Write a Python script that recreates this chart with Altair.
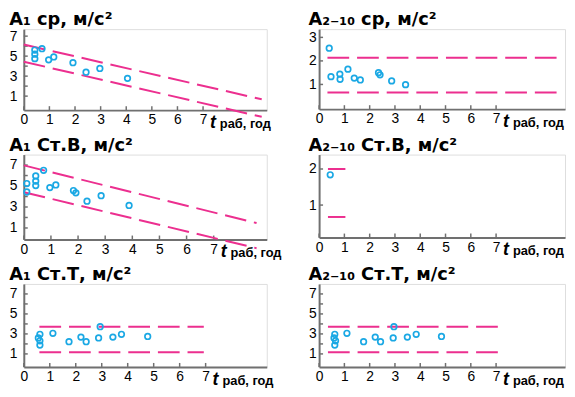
import altair as alt
import pandas as pd

FONT = "Liberation Sans"
TFONT = "DejaVu Sans"
CYAN = "#1aa8e4"
MAG = "#ec2f8f"
AXC = "#707070"

x_ticks = [0, 1, 2, 3, 4, 5, 6, 7]

# ---- A1 ср ----
p1_t = [0.43, 0.43, 0.43, 0.71, 0.97, 1.17, 1.92, 2.43, 2.97, 4.05]
p1_a = [5.61, 5.20, 4.75, 5.74, 4.63, 4.92, 4.34, 3.39, 3.77, 2.78]
p1_up_t = [0.0, 9.29]
p1_up_a = [6.16, 0.68]
p1_lo_t = [0.0, 9.29]
p1_lo_a = [4.44, -1.07]

# ---- A2-10 ср ----
p2_t = [0.40, 0.47, 0.82, 0.83, 1.14, 1.39, 1.63, 2.35, 2.41, 2.87, 3.42]
p2_a = [2.54, 1.33, 1.44, 1.22, 1.65, 1.27, 1.19, 1.50, 1.41, 1.15, 0.99]
p2_up_t = [0.33, 9.6]
p2_up_a = [2.13, 2.13]
p2_lo_t = [0.33, 9.6]
p2_lo_a = [0.66, 0.66]

# ---- A1 Ст.В ----
p3_t = [0.11, 0.11, 0.44, 0.44, 0.44, 0.73, 0.96, 1.18, 1.83, 1.92, 2.33, 2.85, 3.88]
p3_a = [5.24, 4.43, 5.96, 5.47, 5.04, 6.50, 4.85, 5.10, 4.57, 4.35, 3.55, 4.08, 3.15]
p3_up_t = [0.0, 8.58]
p3_up_a = [6.97, 1.47]
p3_lo_t = [0.0, 8.58]
p3_lo_a = [4.41, -0.93]

# ---- A2-10 Ст.В ----
p4_t = [0.44]
p4_a = [1.84]
p4_up_t = [0.35, 1.04]
p4_up_a = [2.0, 2.0]
p4_lo_t = [0.35, 1.04]
p4_lo_a = [0.67, 0.67]

# ---- A1 Ст.Т ----
p5_t = [0.56, 0.62, 0.62, 0.62, 1.12, 1.74, 2.20, 2.40, 2.88, 2.94, 3.43, 3.76, 4.77]
p5_a = [2.60, 2.96, 2.31, 1.89, 3.06, 2.22, 2.68, 2.22, 2.60, 3.72, 2.68, 2.96, 2.75]
p5_up_t = [0.60, 6.93]
p5_up_a = [3.72, 3.72]
p5_lo_t = [0.60, 6.93]
p5_lo_a = [1.16, 1.16]

# ---- A2-10 Ст.Т ----
p6_t = [0.59, 0.62, 0.65, 0.62, 1.10, 1.76, 2.22, 2.43, 2.93, 2.96, 3.49, 3.84, 4.84]
p6_a = [2.60, 2.96, 2.31, 1.89, 3.06, 2.22, 2.68, 2.22, 2.60, 3.72, 2.68, 2.96, 2.75]
p6_up_t = [0.35, 7.08]
p6_up_a = [3.72, 3.72]
p6_lo_t = [0.35, 7.08]
p6_lo_a = [1.16, 1.16]


def panel(title, pts_t, pts_a, bounds, xmax, ydom, yvals, odd_only, w, h, ypad):
    pts = pd.DataFrame({"t": pts_t, "a": pts_a})
    rows = []
    for name, bt, ba in bounds:
        for tt, aa in zip(bt, ba):
            rows.append({"t": tt, "a": aa, "b": name})
    ln = pd.DataFrame(rows)
    xs = alt.Scale(domain=[0, xmax], nice=False, zero=False)
    ys = alt.Scale(domain=ydom, nice=False, zero=False)
    xaxis = alt.Axis(values=x_ticks, title=None, grid=False, labelFont=FONT,
                     labelFontSize=14, labelColor="black", labelPadding=3,
                     labelFlush=False, labelOverlap=False, domainColor=AXC,
                     domainWidth=2, ticks=False)
    yaxis = alt.Axis(values=yvals, title=None, grid=False, labelFont=FONT,
                     labelFontSize=14, labelColor="black", labelPadding=ypad,
                     labelOverlap=False, domainColor=AXC, domainWidth=2, ticks=False,
                     labelExpr=("datum.value % 2 == 1 ? datum.label : ''" if odd_only else "datum.label"))
    xt = alt.Chart(pd.DataFrame({"v": x_ticks})).mark_rule(color=AXC, strokeWidth=1.5).encode(
        x=alt.X("v:Q", scale=xs, axis=xaxis), y=alt.value(h), y2=alt.value(h - 4))
    yt = alt.Chart(pd.DataFrame({"v": yvals})).mark_rule(color=AXC, strokeWidth=1.5).encode(
        y=alt.Y("v:Q", scale=ys, axis=yaxis), x=alt.value(0), x2=alt.value(4))
    lines = alt.Chart(ln).mark_line(color=MAG, strokeWidth=2, strokeDash=[22, 8]).encode(
        x=alt.X("t:Q", scale=xs, axis=xaxis),
        y=alt.Y("a:Q", scale=ys, axis=yaxis),
        detail="b:N",
    )
    points = alt.Chart(pts).mark_point(shape="circle", filled=False, color=CYAN,
                                       strokeWidth=1.7, size=32, opacity=1).encode(
        x=alt.X("t:Q", scale=xs, axis=xaxis),
        y=alt.Y("a:Q", scale=ys, axis=yaxis),
    )
    lab = pd.DataFrame({"p": [x_ticks[-1]], "s": ["t"], "r": ["раб, год"]})
    t_txt = alt.Chart(lab).mark_text(font=FONT, fontSize=18, fontWeight="bold", fontStyle="italic",
                                     align="left", baseline="alphabetic", color="black", dx=7).encode(
        x=alt.X("p:Q", scale=xs, axis=xaxis), y=alt.value(h + 18), text="s:N")
    r_txt = alt.Chart(lab).mark_text(font=FONT, fontSize=13, fontWeight="bold",
                                     align="left", baseline="alphabetic", color="black", dx=17).encode(
        x=alt.X("p:Q", scale=xs, axis=xaxis), y=alt.value(h + 18), text="r:N")
    return alt.layer(xt, yt, lines, points, t_txt, r_txt).properties(
        width=w, height=h,
        title=alt.Title(title, anchor="start", frame="bounds", font=TFONT, fontSize=18,
                        fontWeight="bold", color="black", offset=0),
    )


LW, RW = 246, 249
left_y = [1, 2, 3, 4, 5, 6, 7]

c1 = panel("A₁ ср, м/с²", p1_t, p1_a, [("u", p1_up_t, p1_up_a), ("l", p1_lo_t, p1_lo_a)],
           LW / 25.93, [-0.4, 7.7], left_y, True, LW, 82, 7)
c2 = panel("A₂₋₁₀ ср, м/с²", p2_t, p2_a, [("u", p2_up_t, p2_up_a), ("l", p2_lo_t, p2_lo_a)],
           RW / 25.6, [-0.05, 3.35], [1, 2, 3], False, RW, 81, 3)
c3 = panel("A₁ Ст.В, м/с²", p3_t, p3_a, [("u", p3_up_t, p3_up_a), ("l", p3_lo_t, p3_lo_a)],
           LW / 27.47, [-0.1, 8.0], left_y, True, LW, 86, 7)
c4 = panel("A₂₋₁₀ Ст.В, м/с²", p4_t, p4_a, [("u", p4_up_t, p4_up_a), ("l", p4_lo_t, p4_lo_a)],
           RW / 25.6, [0.1, 2.4], [1, 2], False, RW, 84, 3)
c5 = panel("A₁ Ст.Т, м/с²", p5_t, p5_a, [("u", p5_up_t, p5_up_a), ("l", p5_lo_t, p5_lo_a)],
           LW / 26.3, [-0.3, 8.0], left_y, True, LW, 84, 7)
c6 = panel("A₂₋₁₀ Ст.Т, м/с²", p6_t, p6_a, [("u", p6_up_t, p6_up_a), ("l", p6_lo_t, p6_lo_a)],
           RW / 25.6, [-0.3, 8.0], left_y, True, RW, 84, 3)

chart = alt.concat(
    c1, c2, c3, c4, c5, c6,
    columns=2,
    spacing={"row": 45, "column": 53},
    bounds="flush",
    align="each",
).properties(padding=0).configure_view(stroke=None).configure(font=FONT).configure_axis(labelOverlap=False)

chart.save("out.html", embed_options={"renderer": "svg", "actions": False})
